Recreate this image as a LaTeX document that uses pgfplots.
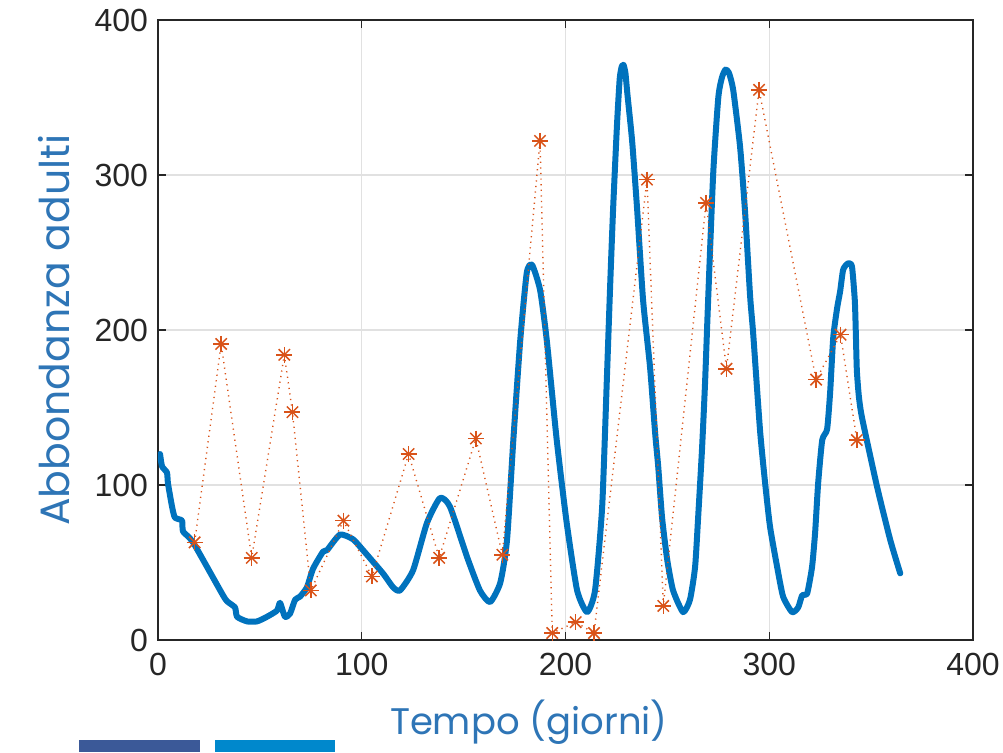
\documentclass[border=0pt]{standalone}
\usepackage{pgfplots}
\usepackage{pgfplotstable}
\usepackage{fontspec}
\pgfplotsset{compat=1.18}
\setmainfont{Liberation Sans}
\newfontfamily\labelfont{Poppins}
\definecolor{mlblue}{RGB}{0,114,189}
\definecolor{mlorange}{RGB}{217,83,25}
\definecolor{axgray}{RGB}{38,38,38}
\definecolor{labblue}{RGB}{46,117,182}
\definecolor{gridgray}{RGB}{225,225,225}
\definecolor{logoA}{RGB}{59,89,152}
\definecolor{logoB}{RGB}{0,136,204}

% modello: abbondanza adulti (curva continua)
\pgfplotstableread{
t n
1 120
2 112
4.4 108
4.9 101
6.9 86
8.3 79
11.8 77
12.3 70
17.2 63
31.4 30
33.9 25
37.8 21
38.8 15
43.7 12
48.6 12
53.5 15
58.4 19
59.9 24
62.3 15
64.8 17
67.3 26
69.7 28
73.1 34
76.1 46
81 57
83 58
89.3 68
95.7 65
100.6 58
110.4 43
115.4 34
118.8 32
125.2 45
132 75.5
138.4 91.6
143.3 86
151.7 53.5
158 32
163 24.5
168 37
171.3 64.5
174.4 129
177.8 193.5
181 237
183.6 242
187.5 226
190.8 193.5
195.7 129
200.6 75.5
205.7 32
210.6 18
214.5 32
218 86
220.4 172
221.9 228
223.4 279
225.3 333
226.6 362
227.6 370
228.5 371
229.4 366
230.4 352
232.7 322
235.1 279
238.1 219
241.5 176
244 133.5
245.5 112
247.4 79
249.9 52
252.8 32
257.7 18
261.1 26
263.6 47
265.1 79
267 123
268.5 166
270 219
272.5 301
275 350
276.8 363
278.5 368
280.2 366
282.3 355
285.7 318
288.2 275
290.6 222
292.1 198
295.5 135
298 101
300.4 73
303.9 47
306.8 28
311.2 18
314.2 21
316.2 29
318.6 30
321 47
322.5 69
324 101
326 129
328.4 136
329.9 160
331.4 195
333.3 214
334.8 225
336.3 239
338.7 243
340.6 241
342 219
342.5 198
343 174
344 157
345.6 143
352.9 99
359.4 64.5
364.3 43
}\modeldata

% osservazioni
\pgfplotstableread{
t n
18 63
31 191
46 53
62 184
66 147
75 32
91 77
105 41
123 120
138 53
156 130
169 55
187.5 322
193.5 4.5
205 11.5
214 4.5
240 297
248 22
269 282
279 175
295 355
323 168
335 197
343 129
}\obsdata

\begin{document}
\begin{tikzpicture}
\path[use as bounding box] (-79pt,-56pt) rectangle (422.5pt,320pt);
\begin{axis}[
    at={(0,0)}, anchor=south west,
    scale only axis,
    width=407.5pt, height=310pt,
    xmin=0, xmax=400, ymin=0, ymax=400,
    xtick={0,100,...,400}, ytick={0,100,...,400},
    tick align=inside,
    major tick length=4pt,
    tick style={axgray, line width=0.7pt},
    axis line style={axgray, line width=0.6pt},
    grid=major,
    grid style={gridgray, line width=0.7pt},
    tick label style={font=\fontsize{16}{19}\selectfont, text=axgray},
    /pgf/number format/assume math mode=true,
    yticklabel style={xshift=-1.5pt},
    xticklabel style={yshift=-3pt},
    xlabel={Tempo (giorni)},
    ylabel={Abbondanza adulti},
    label style={text=labblue},
    xlabel style={font=\labelfont\fontsize{18.5}{22}\selectfont, at={(axis description cs:0.455,-0.132)}, anchor=center},
    ylabel style={font=\labelfont\fontsize{20.5}{24}\selectfont, at={(axis description cs:-0.128,0.5)}, anchor=center, rotate=0},
]
\addplot[mlblue, line width=3pt, line join=round, line cap=round, smooth, tension=0.35] table[x=t, y=n] {\modeldata};
\addplot[mlorange, line width=0.7pt, dash pattern=on 0.6pt off 2.2pt] table[x=t, y=n] {\obsdata};
\addplot[only marks, mlorange, mark=+, mark size=4pt, mark options={line width=0.75pt}] table[x=t, y=n] {\obsdata};
\addplot[only marks, mlorange, mark=x, mark size=4pt, mark options={line width=0.75pt}] table[x=t, y=n] {\obsdata};
\end{axis}
\fill[logoA] (-39.5pt,-56pt) rectangle (21pt,-50pt);
\fill[logoB] (28.5pt,-56pt) rectangle (88.5pt,-50pt);
\end{tikzpicture}
\end{document}
